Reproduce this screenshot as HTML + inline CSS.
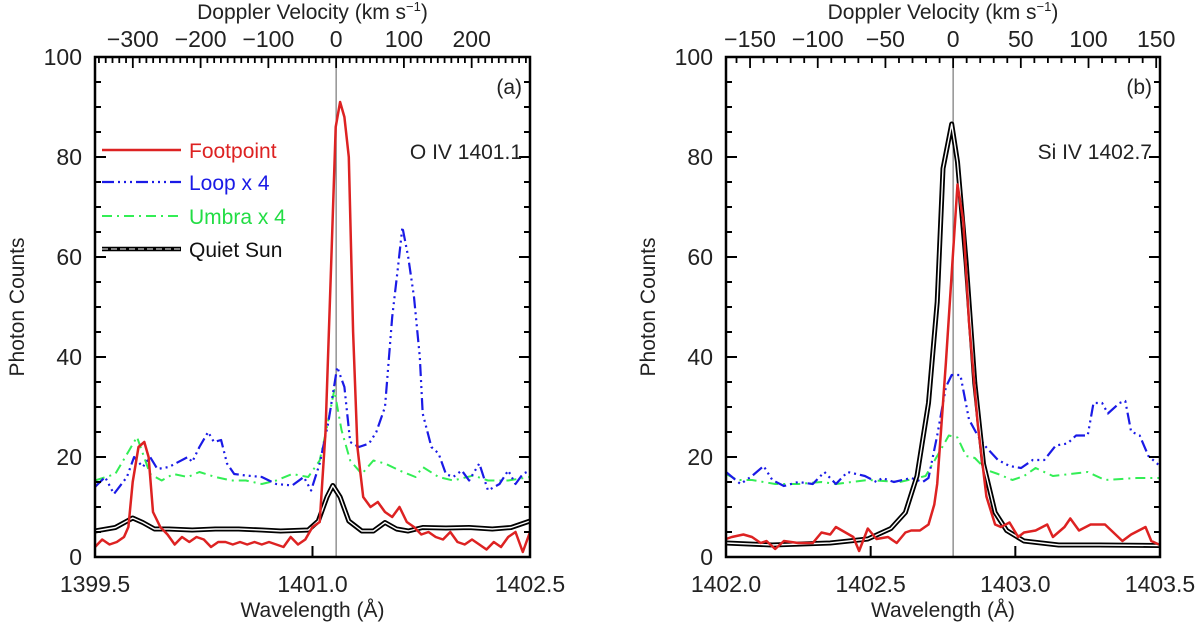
<!DOCTYPE html>
<html><head><meta charset="utf-8">
<style>
html,body{margin:0;padding:0;background:#fff;}
svg text{font-family:"Liberation Sans",sans-serif;fill:#222;}
</style></head>
<body>
<svg id="chart" width="1200" height="631" viewBox="0 0 1200 631" xmlns="http://www.w3.org/2000/svg"></svg>
<script>
// ---------- Panel (a) data: O IV 1401.1 ----------
const aFootLam=[1399.50,1399.55,1399.60,1399.65,1399.70,1399.73,1399.76,1399.80,1399.84,1399.87,1399.90,1399.95,1400.00,1400.05,1400.10,1400.15,1400.20,1400.25,1400.30,1400.35,1400.40,1400.45,1400.50,1400.55,1400.60,1400.65,1400.70,1400.75,1400.80,1400.85,1400.90,1400.95,1401.00,1401.05,1401.09,1401.13,1401.16,1401.19,1401.22,1401.25,1401.28,1401.31,1401.35,1401.40,1401.45,1401.50,1401.55,1401.60,1401.65,1401.70,1401.75,1401.80,1401.85,1401.90,1401.95,1402.00,1402.05,1402.10,1402.15,1402.20,1402.25,1402.30,1402.35,1402.40,1402.45,1402.50];
const aFootVal=[2,3.5,2.5,3,4,6,15,22,23,20,9,6,4.5,2.5,4,3,4,3.5,2,3,3,2.5,3,2.5,3,2.5,3,2.5,2,4,2.5,3.5,6,7,25,60,86,91,88,80,45,22,12,10,11,9,8,10,7,6,4.5,5,4,3.5,5,3,2.5,3.5,2.5,1.5,3,2,4,5,1,5];
const aLoopLam=[1399.50,1399.57,1399.63,1399.72,1399.77,1399.83,1399.88,1399.93,1400.01,1400.14,1400.17,1400.22,1400.28,1400.32,1400.37,1400.41,1400.46,1400.54,1400.65,1400.75,1400.86,1400.94,1400.99,1401.05,1401.11,1401.17,1401.22,1401.26,1401.32,1401.39,1401.44,1401.50,1401.55,1401.59,1401.62,1401.66,1401.70,1401.74,1401.76,1401.82,1401.87,1401.92,1401.97,1402.03,1402.08,1402.15,1402.21,1402.29,1402.35,1402.40,1402.45,1402.50];
const aLoopVal=[14,16,12.6,16,20,18,20,17.6,18,20,19,22,25,23,23.4,18.7,16.6,16.3,16,14.6,14.3,16,13.3,18.7,27,38,34,23,22,22.7,25,30,48,58,66,60,52,40,28.7,22,20.7,16.6,16,17.3,15.3,18.7,13.3,14.6,17.3,14.6,16.6,17.3];
const aUmbLam=[1399.50,1399.64,1399.79,1399.83,1399.88,1399.96,1400.04,1400.14,1400.22,1400.33,1400.44,1400.54,1400.65,1400.75,1400.86,1400.97,1401.05,1401.10,1401.15,1401.20,1401.26,1401.34,1401.42,1401.50,1401.60,1401.71,1401.76,1401.87,1401.97,1402.11,1402.21,1402.35,1402.50];
const aUmbVal=[15.3,16.6,24,20.7,16.6,15.3,16.6,16,17,16,15.3,15.3,14.6,15.3,16.6,16,19.3,26,33.4,25.4,19.3,16.6,19.3,18.7,17.3,16,18,16,15.3,16.3,15.3,15.3,16];
const aQsLam=[1399.50,1399.64,1399.76,1399.83,1399.91,1400.01,1400.17,1400.33,1400.49,1400.65,1400.78,1400.97,1401.04,1401.10,1401.14,1401.19,1401.25,1401.34,1401.42,1401.50,1401.58,1401.66,1401.76,1401.92,1402.08,1402.24,1402.37,1402.50];
const aQsVal=[5.2,5.9,7.8,6.9,5.6,5.6,5.4,5.6,5.6,5.4,5.2,5.4,7.2,12,14.3,12,7.2,5.2,5.2,6.9,5.6,5.2,5.9,5.8,5.9,5.6,5.9,7.2];
// ---------- Panel (b) data: Si IV 1402.7 ----------
const bFootLam=[1402.00,1402.02,1402.06,1402.09,1402.12,1402.14,1402.17,1402.20,1402.25,1402.30,1402.33,1402.36,1402.38,1402.44,1402.46,1402.49,1402.52,1402.56,1402.59,1402.62,1402.64,1402.67,1402.70,1402.72,1402.73,1402.76,1402.78,1402.80,1402.82,1402.84,1402.87,1402.90,1402.93,1402.95,1402.98,1403.01,1403.03,1403.07,1403.11,1403.13,1403.17,1403.19,1403.22,1403.26,1403.31,1403.37,1403.40,1403.45,1403.47,1403.50];
const bFootVal=[3.6,4,4.5,4,2.8,3.2,1.6,3.2,2.8,2.8,4.9,4.5,6,4,1.2,5.7,3.6,4,2.8,4.9,5.3,5.3,6.5,10.5,14.6,38.9,56.7,74.5,67.2,47,26.7,12.1,6.5,6,6.9,4,4.9,5.3,6.5,4,6,7.7,5.3,6.5,6.5,3.2,4.5,6,3.2,2.4];
const bLoopLam=[1402.00,1402.05,1402.09,1402.13,1402.16,1402.20,1402.25,1402.30,1402.34,1402.38,1402.42,1402.48,1402.52,1402.54,1402.58,1402.64,1402.68,1402.70,1402.73,1402.76,1402.78,1402.81,1402.84,1402.87,1402.90,1402.94,1402.98,1403.02,1403.06,1403.10,1403.14,1403.18,1403.21,1403.25,1403.27,1403.30,1403.32,1403.36,1403.38,1403.40,1403.43,1403.46,1403.50];
const bLoopVal=[17,14.6,16.2,18.2,15.4,14.2,15,14.6,17,14.6,17,16.2,15,15.8,15,15.8,15,15.8,24.3,34,36.4,36.4,27.5,24.3,21.9,19.4,18.2,17.8,19.4,19.4,22.3,22.7,24.3,24.3,30.8,30.8,28.7,30.8,31.2,25.1,24.3,20.2,18.2];
const bUmbLam=[1402.00,1402.04,1402.09,1402.17,1402.25,1402.33,1402.38,1402.49,1402.60,1402.69,1402.73,1402.77,1402.80,1402.83,1402.86,1402.90,1402.94,1402.99,1403.03,1403.07,1403.13,1403.19,1403.25,1403.31,1403.42,1403.50];
const bUmbVal=[16.6,15.4,15.4,14.6,14.6,15,14.6,15.4,15,16.2,20.2,24.3,23.9,20.2,19.8,17.4,16.6,15.4,16.2,17.8,16.2,16.6,17,15.4,15.8,15.8];
const bQsLam=[1402.00,1402.16,1402.36,1402.49,1402.57,1402.62,1402.66,1402.70,1402.73,1402.75,1402.78,1402.80,1402.83,1402.86,1402.89,1402.93,1402.97,1403.03,1403.15,1403.29,1403.50];
const bQsVal=[2.8,2.4,2.8,3.6,5.7,8.9,16.2,30.8,51,77.7,86.6,79,59,34.8,18.6,8.9,5.3,3.2,2.4,2.4,2.3];
// ---------- ticks ----------
const yTicks=[0,20,40,60,80,100];
const aXTicks=[1399.5,1401.0,1402.5];
const bXTicks=[1402.0,1402.5,1403.0,1403.5];
const aVelTicks=[-300,-200,-100,0,100,200];
const bVelTicks=[-150,-100,-50,0,50,100,150];

const NS='http://www.w3.org/2000/svg';
const svg=document.getElementById('chart');
function mk(tag,attrs,parent){const e=document.createElementNS(NS,tag);for(const k in attrs)e.setAttribute(k,attrs[k]);(parent||svg).appendChild(e);return e;}

const TOP=57,BOT=557;
function yS(v){return BOT-(v/100)*(BOT-TOP);}

function panel(p){
  const g=mk('g',{});
  
  
  const xS=l=>p.x0+(l-p.l0)/(p.l1-p.l0)*(p.x1-p.x0);
  const c=299792.458;
  const vS=v=>xS(p.lc*(1+v/c));
  const rl=mk('line',{x1:xS(p.lc),x2:xS(p.lc),y1:TOP,y2:BOT,stroke:'#777','stroke-width':1.2},g);
  
  
  function series(lam,val,name,stroke,w,dash){
    const d=lam.map((l,i)=>(i?'L':'M')+xS(l).toFixed(1)+','+yS(val[i]).toFixed(1)).join(' ');
    const s=mk('path',{d:d,fill:'none',stroke:stroke,'stroke-width':w,'stroke-linejoin':'round'},g);
    if(dash)s.setAttribute('stroke-dasharray',dash);
    
    
    return d;
  }
  series(p.umb[0],p.umb[1],'umbra-line','#33ee55',2,'10,5,2,5');
  series(p.loop[0],p.loop[1],'loop-line','#1a1ae6',2.2,'12,4,2,4,2,4,2,4');
  const qd=series(p.qs[0],p.qs[1],'quiet-sun-line','#000',5,null);
  const qw=mk('path',{d:qd,fill:'none',stroke:'#fff','stroke-width':1.4,'stroke-linejoin':'round'},g);
  
  
  series(p.foot[0],p.foot[1],'footpoint-line','#dd2222',2.5,null);
  const fr=mk('rect',{x:p.x0,y:TOP,width:p.x1-p.x0,height:BOT-TOP,fill:'none',stroke:'#000','stroke-width':2.5},g);
  
  
  for(let v=0;v<=100;v+=5){
    const L=(v%20===0)?11:6;
    mk('line',{x1:p.x0,x2:p.x0+L,y1:yS(v),y2:yS(v),stroke:'#000','stroke-width':2},g);
    mk('line',{x1:p.x1,x2:p.x1-L,y1:yS(v),y2:yS(v),stroke:'#000','stroke-width':2},g);
  }
  yTicks.forEach(v=>{
    const t=mk('text',{x:p.x0-13,y:yS(v)+8,'text-anchor':'end','font-size':23},g);
    t.textContent=v;
    
    
  });
  p.xt.forEach(l=>{
    mk('line',{x1:xS(l),x2:xS(l),y1:BOT,y2:BOT-11,stroke:'#000','stroke-width':2},g);
    const t=mk('text',{x:xS(l),y:BOT+35,'text-anchor':'middle','font-size':23},g);
    t.textContent=l.toFixed(1);
    
    
  });
  for(let v=-400;v<=400;v+=10){
    const x=vS(v); if(x<p.x0+1||x>p.x1-1)continue;
    const major=p.vt.indexOf(v)>=0;
    mk('line',{x1:x,x2:x,y1:TOP,y2:TOP+(major?11:6),stroke:'#000','stroke-width':1.8},g);
  }
  p.vt.forEach(v=>{
    const t=mk('text',{x:vS(v),y:47,'text-anchor':'middle','font-size':23},g);
    t.textContent=(v<0?'\u2212':'')+Math.abs(v);
    
    
  });
  const cx=(p.x0+p.x1)/2;
  const tt=mk('text',{x:cx,y:19,'text-anchor':'middle','font-size':21},g);
  tt.innerHTML='Doppler Velocity (km s<tspan dy="-8" font-size="13">\u22121</tspan><tspan dy="8">)</tspan>';
  
  
  const xt=mk('text',{x:cx,y:617,'text-anchor':'middle','font-size':21},g);
  xt.textContent='Wavelength (\u00C5)';
  
  
  const yt=mk('text',{x:p.ylx,y:307,'text-anchor':'middle','font-size':21,transform:'rotate(-90 '+p.ylx+' 307)'},g);
  yt.textContent='Photon Counts';
  
  
  const pl=mk('text',{x:p.x1-8,y:94,'text-anchor':'end','font-size':21},g);
  pl.textContent=p.tag;
  
  
  const ln=mk('text',{x:p.x1-8,y:159,'text-anchor':'end','font-size':21},g);
  ln.textContent=p.line;
  
  
}

panel({id:'a',x0:95,x1:530,l0:1399.5,l1:1402.5,lc:1401.163,xt:aXTicks,vt:aVelTicks,ylx:24,tag:'(a)',line:'O IV 1401.1',
  foot:[aFootLam,aFootVal],loop:[aLoopLam,aLoopVal],umb:[aUmbLam,aUmbVal],qs:[aQsLam,aQsVal]});
panel({id:'b',x0:726,x1:1160,l0:1402.0,l1:1403.5,lc:1402.785,xt:bXTicks,vt:bVelTicks,ylx:655,tag:'(b)',line:'Si IV 1402.7',
  foot:[bFootLam,bFootVal],loop:[bLoopLam,bLoopVal],umb:[bUmbLam,bUmbVal],qs:[bQsLam,bQsVal]});

const leg=mk('g',{});


const legNames=['Footpoint','Loop x 4','Umbra x 4','Quiet Sun'];
const legColors=['#dd2222','#1a1ae6','#22dd44','#111'];
const legY=[150,182,216,249];
legNames.forEach((n,i)=>{
  const y=legY[i];
  if(i===0){const l=mk('line',{x1:102,x2:181,y1:y,y2:y,stroke:'#dd2222','stroke-width':2.5},leg);}
  if(i===1){const l=mk('line',{x1:102,x2:181,y1:y,y2:y,stroke:'#1a1ae6','stroke-width':2.2,'stroke-dasharray':'12,4,2,4,2,4,2,4'},leg);}
  if(i===2){const l=mk('line',{x1:102,x2:181,y1:y,y2:y,stroke:'#33ee55','stroke-width':2,'stroke-dasharray':'10,5,2,5'},leg);}
  if(i===3){const l=mk('line',{x1:102,x2:181,y1:y,y2:y,stroke:'#000','stroke-width':4.5},leg);
    mk('line',{x1:102,x2:181,y1:y,y2:y,stroke:'#fff','stroke-width':1.1,'stroke-dasharray':'6,3'},leg);}
  const t=mk('text',{x:189,y:y+8,'font-size':21},leg);
  t.textContent=n;
  t.style.fill=legColors[i];
  
  
});
</script>
</body></html>
